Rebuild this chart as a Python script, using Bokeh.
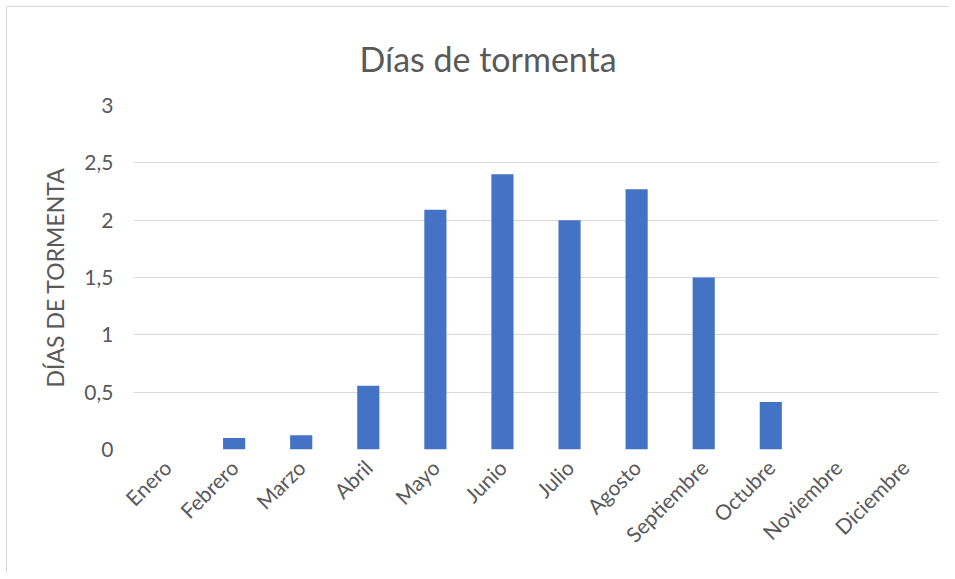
from bokeh.plotting import figure
from bokeh.models import FixedTicker
from bokeh.embed import file_html
from bokeh.resources import INLINE
import math

months = ["Enero", "Febrero", "Marzo", "Abril", "Mayo", "Junio", "Julio",
          "Agosto", "Septiembre", "Octubre", "Noviembre", "Diciembre"]
dias = [0, 0.1, 0.125, 0.555, 2.09, 2.4, 2.0, 2.27, 1.5, 0.415, 0, 0]
y_ticks = [0, 0.5, 1, 1.5, 2, 2.5, 3]
y_tick_labels = ["0", "0,5", "1", "1,5", "2", "2,5", "3"]

FONT = "Lato"
TXT = "#595959"

p = figure(x_range=months, y_range=(0, 3), width=943, height=567,
           output_backend="svg", toolbar_location=None,
           title="Días de tormenta",
           min_border_left=126, min_border_right=12, min_border_top=98,
           min_border_bottom=125)
p.styles = {"border-top": "1px solid #d9d9d9", "border-left": "1px solid #d9d9d9",
            "margin-left": "6px", "margin-top": "6px"}

p.vbar(x=months, top=dias, width=0.33, fill_color="#4472C4", line_color=None)

p.title.align = "left"
p.title.offset = 226
p.title.text_font = FONT
p.title.text_font_size = "34px"
p.title.text_font_style = "normal"
p.title.text_color = TXT
p.title.standoff = 50
p.title.vertical_align = "top"

p.outline_line_color = None
p.xgrid.grid_line_color = None
p.ygrid.grid_line_color = "#d9d9d9"
p.ygrid.grid_line_width = 1

p.yaxis.ticker = FixedTicker(ticks=y_ticks)
p.yaxis.major_label_overrides = {t: l for t, l in zip(y_ticks, y_tick_labels)}
p.yaxis.axis_label = "DÍAS DE TORMENTA"
p.yaxis.axis_label_text_font = FONT
p.yaxis.axis_label_text_font_size = "23px"
p.yaxis.axis_label_text_font_style = "normal"
p.yaxis.axis_label_text_color = TXT
p.yaxis.axis_label_standoff = 12

for ax in (p.xaxis, p.yaxis):
    ax.axis_line_color = None
    ax.major_tick_line_color = None
    ax.minor_tick_line_color = None
    ax.major_label_text_font = FONT
    ax.major_label_text_font_size = "21px"
    ax.major_label_text_color = TXT

p.yaxis.major_label_standoff = 14
p.xaxis.major_label_orientation = math.pi / 4
p.xaxis.major_label_standoff = 8

open("out.html", "w").write(file_html(p, INLINE))
